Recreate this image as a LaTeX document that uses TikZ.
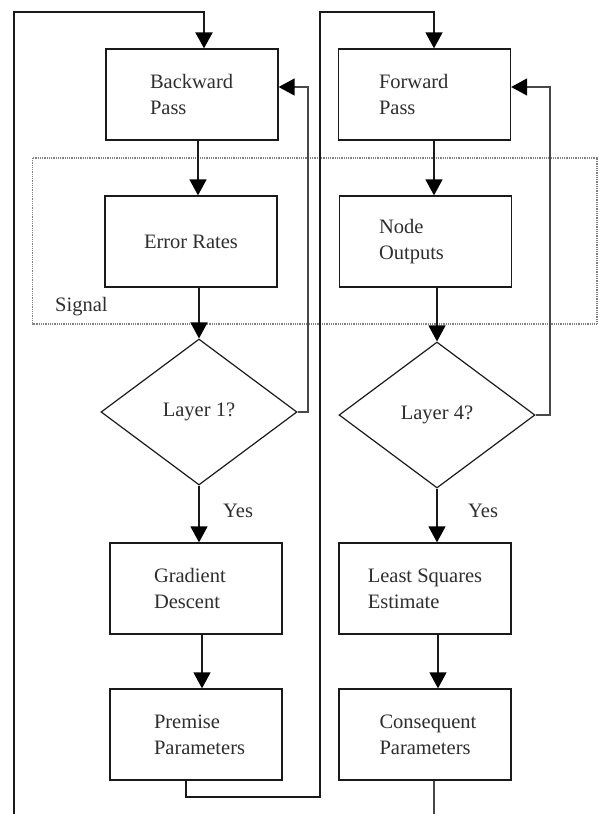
\documentclass[tikz,border=0pt]{standalone}
\usepackage{fontspec}
\setmainfont{Liberation Serif}
\usetikzlibrary{arrows.meta,shapes.geometric}
\definecolor{ink}{HTML}{1A1A1A}
\definecolor{txt}{HTML}{2E2E2E}
\newcommand{\lab}{\fontsize{20.5pt}{26pt}\selectfont}
\tikzset{
  box/.style={draw=ink, line width=1.3pt, minimum width=172pt, minimum height=91pt,
    inner sep=0pt, align=left, font=\lab, text=txt},
  decision/.style={draw=ink, line width=1.2pt, diamond, aspect=1.34,
    minimum width=196pt, minimum height=146pt, inner sep=0pt, font=\lab, text=txt},
  tip/.style={-{Triangle[width=17pt,length=16pt,fill=black,color=black]}},
  flow/.style={draw=ink, line width=1.5pt, tip},
  loopline/.style={draw=ink, line width=2.3pt},
  midloop/.style={draw=ink, line width=1.7pt},
  back/.style={draw=ink!80, line width=1.4pt},
  signalbox/.style={draw=gray, line width=1.1pt, dash pattern=on 1pt off 0.8pt},
  note/.style={font=\lab, text=txt, inner sep=0pt}
}
\begin{document}
\begin{tikzpicture}[x=1pt, y=-1pt]
  \useasboundingbox (0,0) rectangle (599,814);

  % grouping of the signal computations
  \draw[signalbox] (32.5,158) rectangle (597,324);
  \node[note, anchor=base west] (siglab) at (55,311) {Signal};

  % left column: backward pass
  \node[box, text width=84pt] (bp) at (192,94.5) {Backward\\Pass};
  \node[box] (er) at (191,241.5) {Error Rates};
  \node[decision] (l1) at (199,412) {Layer 1?};
  \node[box, text width=84pt] (gd) at (196,588.5) {Gradient\\Descent};
  \node[box, text width=84pt] (pp) at (196,734.5) {Premise\\Parameters};

  % right column: forward pass
  \node[box, text width=91pt] (fp) at (424.5,94.5) {Forward\\Pass};
  \node[box, text width=93pt] (no) at (425.5,241.5) {Node\\Outputs};
  \node[decision] (l4) at (437,415) {Layer 4?};
  \node[box] (lse) at (425,588.5) {Least Squares\\Estimate};
  \node[box, text width=91pt] (cp) at (425,734.5) {Consequent\\Parameters};

  \node[note, anchor=base west] (y1) at (223,517) {Yes};
  \node[note, anchor=base west] (y4) at (468,517) {Yes};

  % vertical flow inside the columns
  \draw[flow] ([xshift=6pt]bp.south) -- ([xshift=6pt]bp.south |- er.north);
  \draw[flow] (er.south -| l1.north) -- (l1.north);
  \draw[flow] (l1.south) -- (l1.south |- gd.north);
  \draw[flow] ([xshift=6pt]gd.south) -- ([xshift=6pt]gd.south |- pp.north);

  \draw[flow] ([xshift=9.5pt]fp.south) -- ([xshift=9.5pt]fp.south |- no.north);
  \draw[flow] (no.south -| l4.north) -- (l4.north);
  \draw[flow] (l4.south) -- (l4.south |- lse.north);
  \draw[flow] ([xshift=13pt]lse.south) -- ([xshift=13pt]lse.south |- cp.north);

  % "no" branches back to the top of each column
  \coordinate (fbl) at (308,87);
  \coordinate (fbr) at (550,87);
  \draw[back, tip] (l1.east) -| (fbl) -- (fbl -| bp.east);
  \draw[back, tip] (l4.east) -| (fbr) -- (fbr -| fp.east);

  % outer loops
  \coordinate (lb) at (14,814);
  \coordinate (lt) at (204,12);
  \draw[loopline, tip] (lb) |- (lt) -- (lt |- bp.north);

  \coordinate (mb) at (320,797);
  \coordinate (mt) at (434,12);
  \draw[midloop, tip] ([xshift=-10pt]pp.south) |- (mb) -- (mb |- mt) -- (mt) -- (mt |- fp.north);

  \coordinate (cb) at (434,814);
  \draw[back] ([xshift=9pt]cp.south) -- (cb);
\end{tikzpicture}
\end{document}
